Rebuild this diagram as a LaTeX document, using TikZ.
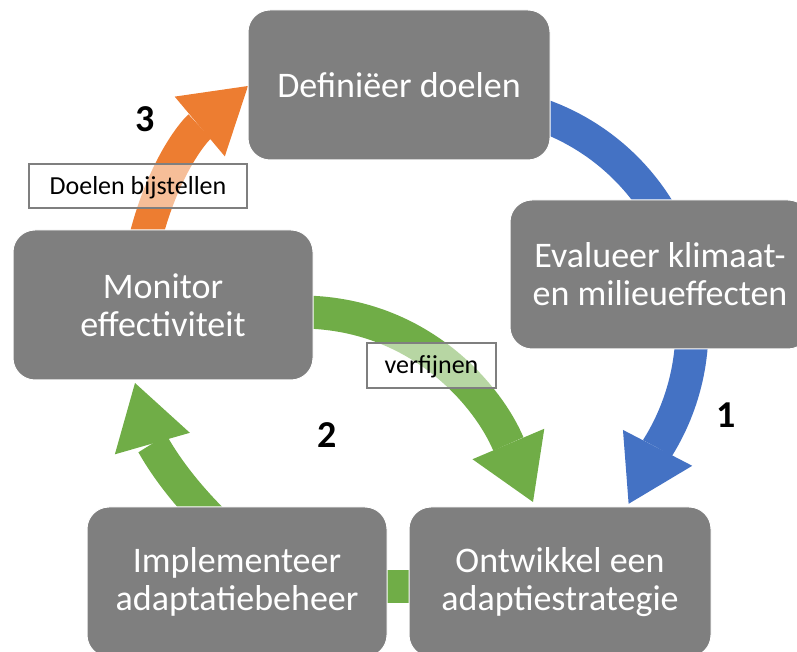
\documentclass[tikz,border=0pt]{standalone}
\usepackage{fontspec}
\setmainfont{Carlito}
\usetikzlibrary{arrows.meta,backgrounds}
\definecolor{boxgray}{HTML}{7F7F7F}
\definecolor{cblue}{HTML}{4472C4}
\definecolor{cgreen}{HTML}{70AD47}
\definecolor{corange}{HTML}{ED7D31}
\tikzset{
  stage/.style={fill=boxgray, draw=white, line width=1pt, rounded corners=22pt,
    minimum width=#1, minimum height=150pt, inner sep=0pt, text=white,
    align=center, font=\fontsize{36}{38}\selectfont},
  stage/.default=300pt,
  band/.style={line width=33pt, draw=#1,
    -{Triangle[length=63pt,width=78pt,line width=0pt,fill=#1]}},
  plainband/.style={line width=33pt, draw=#1},
  tag/.style={draw=boxgray, line width=1.2pt, fill=white, fill opacity=0.5,
    text opacity=1, font=\fontsize{26}{28}\selectfont, inner sep=0pt,
    text height=17pt, text depth=0pt},
  num/.style={font=\fontsize{38}{40}\selectfont\bfseries, inner sep=0pt}
}
\begin{document}
\begin{tikzpicture}[x=1pt,y=1pt]
\useasboundingbox (0,0) rectangle (797,652);
\clip (0,0) rectangle (797,652);
% stages
\node[stage=302pt] (def) at (399,567) {Definiëer doelen};
\node[stage, minimum height=149pt] (eval) at (660,377.5) {Evalueer klimaat-\\en milieueffecten};
\node[stage] (mon) at (163,347) {Monitor\\effectiviteit};
\node[stage] (impl) at (237,70) {Implementeer\\adaptatiebeheer};
\node[stage=302pt] (ontw) at (560,70) {Ontwikkel een\\adaptiestrategie};
% connector end points
\coordinate (a1s) at (535.8,538.9);
\coordinate (a2s) at (300,340);
\coordinate (a2e) at (533,150);
\coordinate (a3s) at (212,132);
\coordinate (a3e) at (135,269);
\coordinate (a4s) at (145,412);
\coordinate (a4e) at (248,566);
\begin{pgfonlayer}{background}
  \draw[band=cblue] (a1s) arc[start angle=72, end angle=-32, radius=226] -- ++(-29,-56) coordinate (a1e);
  \draw[band=cgreen] (a2s) to[out=0,in=113] (a2e);
  \draw[band=cgreen] (a3s) to[out=135,in=-74] (a3e);
  \draw[band=corange] (a4s) to[out=76,in=220] (a4e);
  \draw[plainband=cgreen] ([yshift=-4.5pt]impl.center) -- ([yshift=-4.5pt]ontw.center);
\end{pgfonlayer}
% labels
\node[tag, minimum width=218pt, minimum height=44pt] (adj) at (138,466) {Doelen bijstellen\hspace{4pt}};
\node[tag, minimum width=129pt, minimum height=45pt] (ref) at (431.5,286.5) {verfijnen\hspace{6pt}};
\node[num] (n3) at (145,533) {3};
\node[num] (n2) at (327,217) {2};
\node[num] (n1) at (726,237) {1};
\end{tikzpicture}
\end{document}
